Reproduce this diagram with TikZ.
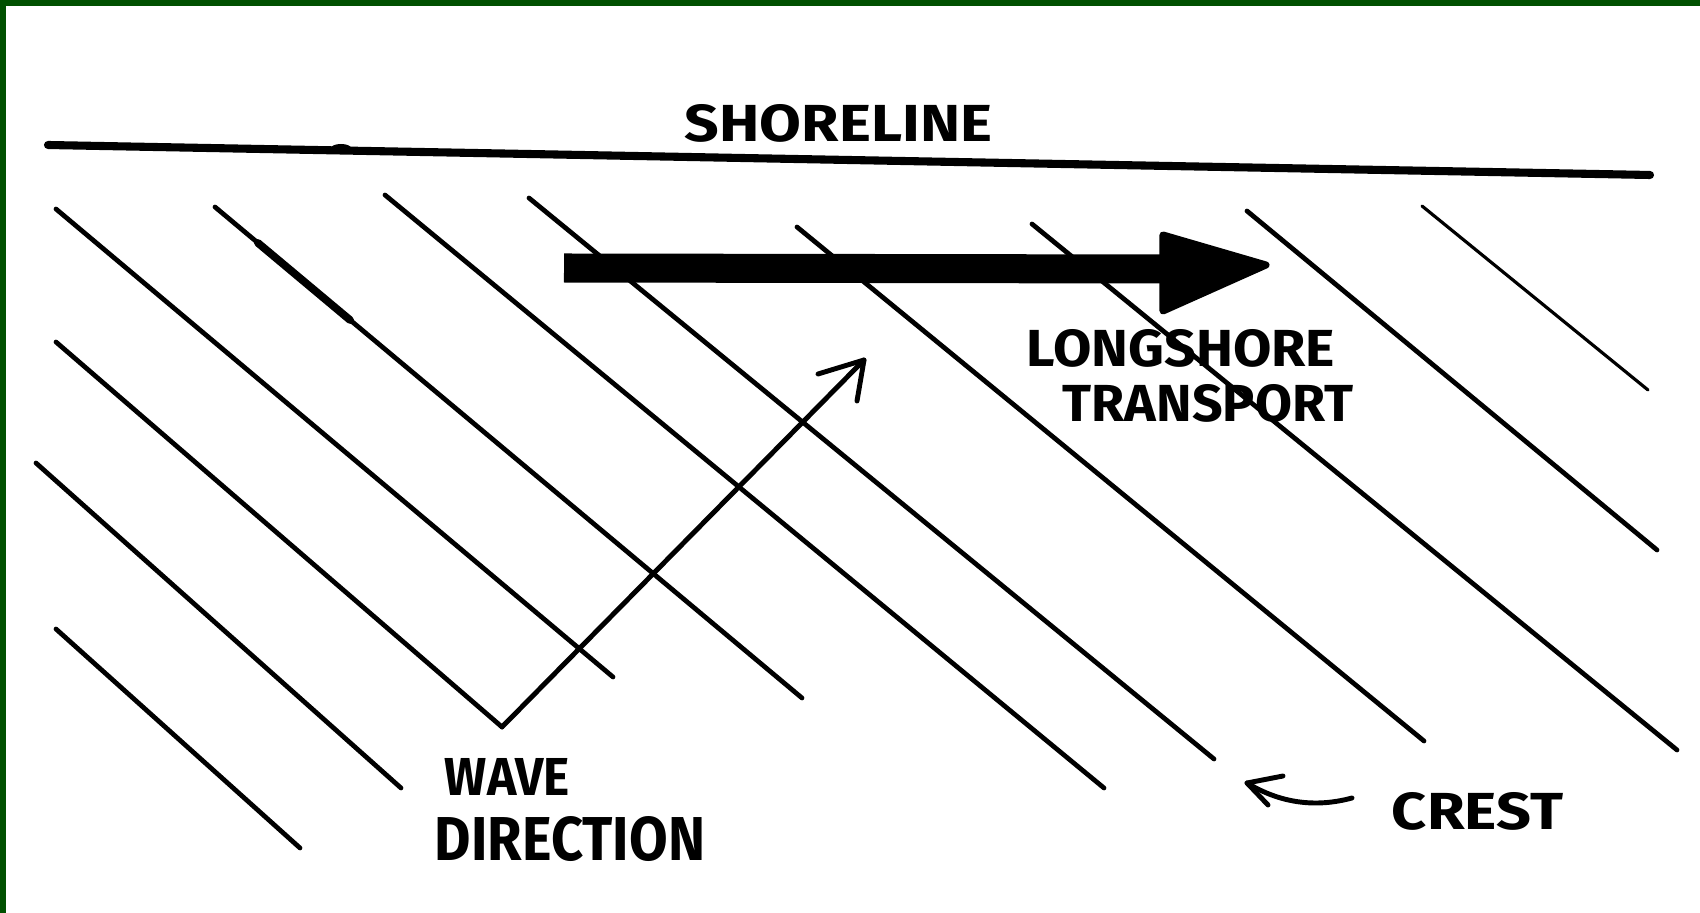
\documentclass[tikz,border=0pt]{standalone}
\usepackage{fontspec}
\setmainfont{Fira Sans}
\usetikzlibrary{arrows.meta}
\definecolor{frame}{RGB}{0,80,0}
\begin{document}
\begin{tikzpicture}[x=0.01cm,y=-0.01cm,
  crestline/.style={line width=1.35pt, line cap=round},
  thinline/.style={line width=0.9pt, line cap=round},
  shore/.style={line width=2.3pt, line cap=round},
  pen/.style={line width=1.4pt, line cap=round, line join=round},
  lbl/.style={inner sep=0pt, font=\bfseries},
  shaft/.style={line width=8.25pt},
  head/.style={fill, draw, line width=2pt, line join=round}
 ]
\useasboundingbox (0,0) rectangle (1700,913);
\fill[white] (0,0) rectangle (1700,913);
\fill[frame] (0,0) rectangle (1700,6);
\fill[frame] (0,0) rectangle (6,913);

% shoreline
\coordinate (s1) at (48,145);
\coordinate (s2) at (1650,175);
\draw[shore] (s1) -- (s2);
\fill (341,148) ellipse (10 and 4);
\node[lbl] (shoreline) at (838.5,123.5) {\resizebox{3.07cm}{0.37cm}{SHORELINE}};

% wave crests
\coordinate (a1) at (56,209);   \coordinate (b1) at (613,677);
\coordinate (a2) at (215,207);  \coordinate (b2) at (802,698);
\coordinate (a3) at (385,195);  \coordinate (b3) at (1104,788);
\coordinate (a4) at (529,198);  \coordinate (b4) at (1214,759);
\coordinate (a5) at (797,227);  \coordinate (b5) at (1424,741);
\coordinate (a6) at (1032,224); \coordinate (b6) at (1677,750);
\coordinate (a7) at (1247,211); \coordinate (b7) at (1657,550);
\coordinate (a8) at (1422,206); \coordinate (b8) at (1648,390);
\coordinate (a9) at (56,342);   \coordinate (b9) at (502,727);
\coordinate (a10) at (36,463);  \coordinate (b10) at (401,788);
\coordinate (a11) at (56,629);  \coordinate (b11) at (300,848);
\foreach \i in {1,2,3,4,5,6,7,9,10,11} \draw[crestline] (a\i) -- (b\i);
\draw[thinline] (a8) -- (b8);
\coordinate (t1) at (258,243);
\coordinate (t2) at (350,320);
\draw[line width=2.2pt, line cap=round] (t1) -- (t2);

% longshore transport arrow
\coordinate (ls1) at (564,268);
\coordinate (lsb) at (1170,269);
\coordinate (ls2) at (1266,265);
\draw[shaft] (ls1) -- (lsb);
\path[head] (1163,235) -- (ls2) -- (1163,311) -- cycle;
\node[lbl] (longshore) at (1181,348) {\resizebox{3.08cm}{0.37cm}{LONGSHORE}};
\node[lbl] (transport) at (1208,403) {\resizebox{2.90cm}{0.37cm}{TRANSPORT}};

% wave direction arrow
\coordinate (wt) at (864,360);
\draw[pen] (b9) -- (wt);
\draw[pen] (818,374) -- (wt) -- (857,401);
\node[lbl] (wave) at (507.5,776.5) {\resizebox{1.25cm}{0.37cm}{WAVE}};
\node[lbl] (direction) at (570,839) {\resizebox{2.70cm}{0.44cm}{DIRECTION}};

% crest label and arrow
\node[lbl] (crest) at (1477.5,811.5) {\resizebox{1.71cm}{0.37cm}{CREST}};
\coordinate (c1) at (1352,798);
\coordinate (c2) at (1247,783);
\draw[pen] (c1) .. controls (1315,808) and (1280,803) .. (c2);
\draw[pen] (1283,776) -- (c2) -- (1268,805);
\end{tikzpicture}
\end{document}
